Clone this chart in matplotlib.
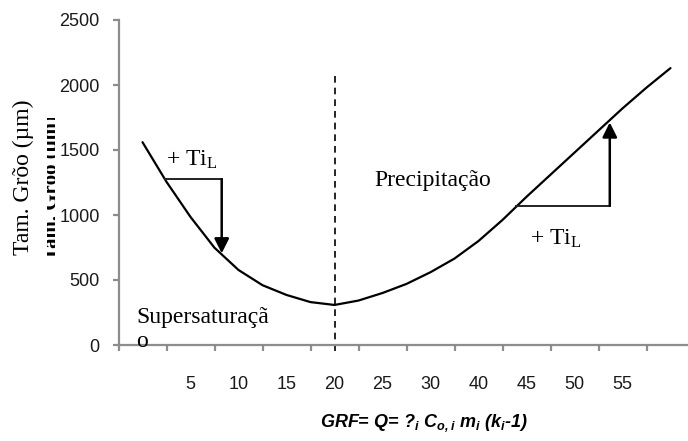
import matplotlib
matplotlib.use("Agg")
import matplotlib.pyplot as plt
from matplotlib.transforms import Bbox

plt.rcParams['mathtext.default'] = 'regular'

# category labels along the x axis (first and last slots carry no label)
categories = ["", "5", "10", "15", "20", "25", "30", "40", "45", "50", "55", ""]

# grain size, at half-category steps
curve_x = [0, 0.5, 1, 1.5, 2, 2.5, 3, 3.5, 4, 4.5, 5, 5.5,
           6, 6.5, 7, 7.5, 8, 8.5, 9, 9.5, 10, 10.5, 11]
curve_y = [1560, 1255, 985, 748, 577, 460, 385, 330, 308, 342, 400, 470,
           560, 665, 800, 962, 1140, 1310, 1480, 1650, 1820, 1980, 2130]

# position of the dashed boundary (category "20")
boundary_x = 4
boundary_top = 2080

# "+ TiL" arrows: (x start, x end, y of horizontal leg, y of arrow tip)
left_arrow = (0.47, 1.65, 1275, 705)
right_arrow = (7.79, 9.735, 1071, 1712)

fig = plt.figure(figsize=(6.88, 4.41), dpi=100)
ax = fig.add_axes([118.5 / 688, 96 / 441, 576 / 688, 325 / 441])

ax.plot(curve_x, curve_y, color='black', linewidth=1.6, solid_capstyle='round')

ax.set_xlim(-0.5, 11.5)
ax.set_ylim(0, 2500)
ax.set_yticks([0, 500, 1000, 1500, 2000, 2500])
ax.set_xticks(range(len(categories)))
ax.set_xticklabels(categories)
ax.set_xticks([i - 0.5 for i in range(len(categories) + 1)], minor=True)

for side in ['top', 'right']:
    ax.spines[side].set_visible(False)
for side in ['left', 'bottom']:
    ax.spines[side].set_color('#8c8c8c')
    ax.spines[side].set_linewidth(1.6)

ax.tick_params(axis='x', which='major', length=0, pad=22,
               labelsize=13, labelcolor='#1a1a1a')
ax.tick_params(axis='x', which='minor', length=4, width=1.6, color='#8c8c8c',
               direction='out')
ax.tick_params(axis='y', length=4.5, width=1.6, color='#8c8c8c', pad=9,
               labelsize=13, labelcolor='#1a1a1a')
for lab in ax.get_xticklabels() + ax.get_yticklabels():
    lab.set_fontfamily('Liberation Sans')

# dashed boundary line
ax.plot([boundary_x, boundary_x], [-45, boundary_top], color='black',
        linewidth=1.2, dashes=(4, 3), clip_on=False)

# arrows
serif = 'Liberation Serif'
for x0, x1, yh, ytip in [left_arrow, right_arrow]:
    ax.plot([x0, x1], [yh, yh], color='#222222', linewidth=1.4)
    ax.annotate('', xy=(x1, ytip), xytext=(x1, yh),
                arrowprops=dict(arrowstyle='-|>', color='black', lw=1.8,
                                mutation_scale=22, shrinkA=0, shrinkB=0))

ax.text(0.5, 1377, '+ Ti$_L$', family=serif, fontsize=17, va='baseline')
ax.text(8.08, 769, '+ Ti$_L$', family=serif, fontsize=17, va='baseline')
ax.text(4.83, 1223, 'Precipitação', family=serif, fontsize=17, va='baseline')
ax.text(-0.125, -15, 'Supersaturaçã\no', family=serif, fontsize=17,
        va='baseline', linespacing=1.2)

# axis titles
fig.text(23 / 688, 1 - 177 / 441, 'Tam. Grõo (µm)', family=serif, fontsize=17,
         rotation=90, ha='center', va='center')
ghost = fig.text(52 / 688, 1 - 188 / 441, 'Tam. Grõo (µm)', family=serif,
                 fontsize=15, fontweight='bold', rotation=90,
                 ha='center', va='center')
ghost.set_clip_box(Bbox.from_extents(47, 441 - 258, 55, 441 - 118))
ghost.set_clip_on(True)

fig.text(424 / 688, 1 - 423 / 441, 'GRF= Q= ?$_i$ C$_{o,i}$ m$_i$ (k$_i$-1)',
         family='Liberation Sans', fontsize=13, fontweight='bold',
         style='italic', ha='center', va='center')

fig.savefig('out.png', dpi=100)
